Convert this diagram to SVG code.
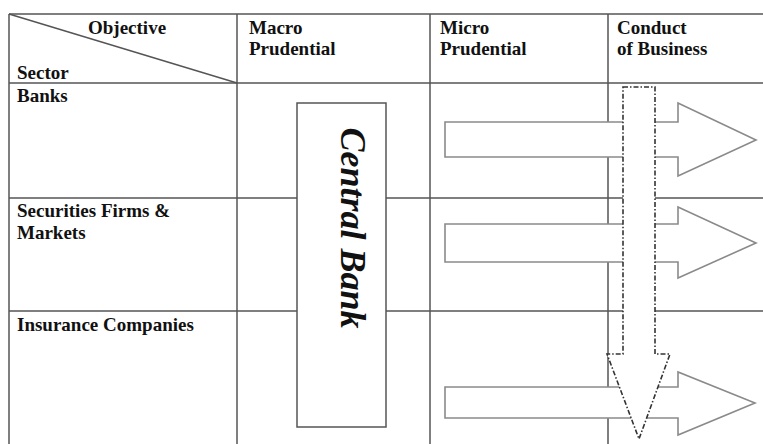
<svg xmlns="http://www.w3.org/2000/svg" width="763" height="444" viewBox="0 0 763 444">
<style>
.grid{stroke:#555;stroke-width:1.5;fill:none}
.t{font-family:"Liberation Serif","Times New Roman",serif;font-weight:bold;font-size:19px;fill:#111}
.harrow{fill:#fff;stroke:#8a8a8a;stroke-width:1.6}
.varrow{fill:#fff;stroke:#333;stroke-width:1.6;stroke-dasharray:5 2 1.5 2}
.box{fill:#fff;stroke:#555;stroke-width:1.5}
.cb{font-family:"Liberation Serif","Times New Roman",serif;font-weight:bold;font-style:italic;font-size:36px;fill:#111}
</style>
<rect width="763" height="444" fill="#fff"/>
<g id="table">
  <line class="grid" x1="9" y1="14" x2="763" y2="14"/>
  <line class="grid" x1="9" y1="83" x2="763" y2="83"/>
  <line class="grid" x1="9" y1="198" x2="763" y2="198"/>
  <line class="grid" x1="9" y1="311" x2="763" y2="311"/>
  <line class="grid" x1="9" y1="14" x2="9" y2="444"/>
  <line class="grid" x1="237" y1="14" x2="237" y2="444"/>
  <line class="grid" x1="430" y1="14" x2="430" y2="444"/>
  <line class="grid" x1="608" y1="14" x2="608" y2="444"/>
  <line class="grid" x1="9" y1="14" x2="237" y2="83"/>
</g>
<g id="headers">
  <text class="t" x="88" y="34">Objective</text>
  <text class="t" x="17" y="79">Sector</text>
  <text class="t" x="249" y="34">Macro</text>
  <text class="t" x="249" y="55">Prudential</text>
  <text class="t" x="440" y="34">Micro</text>
  <text class="t" x="440" y="55">Prudential</text>
  <text class="t" x="617" y="34">Conduct</text>
  <text class="t" x="617" y="55">of Business</text>
</g>
<g id="rows">
  <text class="t" x="17" y="102">Banks</text>
  <text class="t" x="17" y="217">Securities Firms &amp;</text>
  <text class="t" x="17" y="239">Markets</text>
  <text class="t" x="17" y="331">Insurance Companies</text>
</g>
<g id="connectors">
  <polygon class="harrow" points="445,122 678,122 678,103 756,140 678,176 678,157 445,157"/>
  <polygon class="harrow" points="445,224 678,224 678,207 756,243 678,278 678,262 445,262"/>
  <polygon class="harrow" points="445,387 678,387 678,372 755,403 678,435 678,418 445,418"/>
</g>
<g id="central-bank">
  <rect class="box" x="297" y="103" width="89" height="324"/>
  <text class="cb" transform="translate(341,228) rotate(90)" text-anchor="middle">Central Bank</text>
</g>
<g id="conduct-arrow">
  <polygon class="varrow" points="623,87 655,87 655,354 670,354 639,439 607,354 623,354"/>
</g>
</svg>
